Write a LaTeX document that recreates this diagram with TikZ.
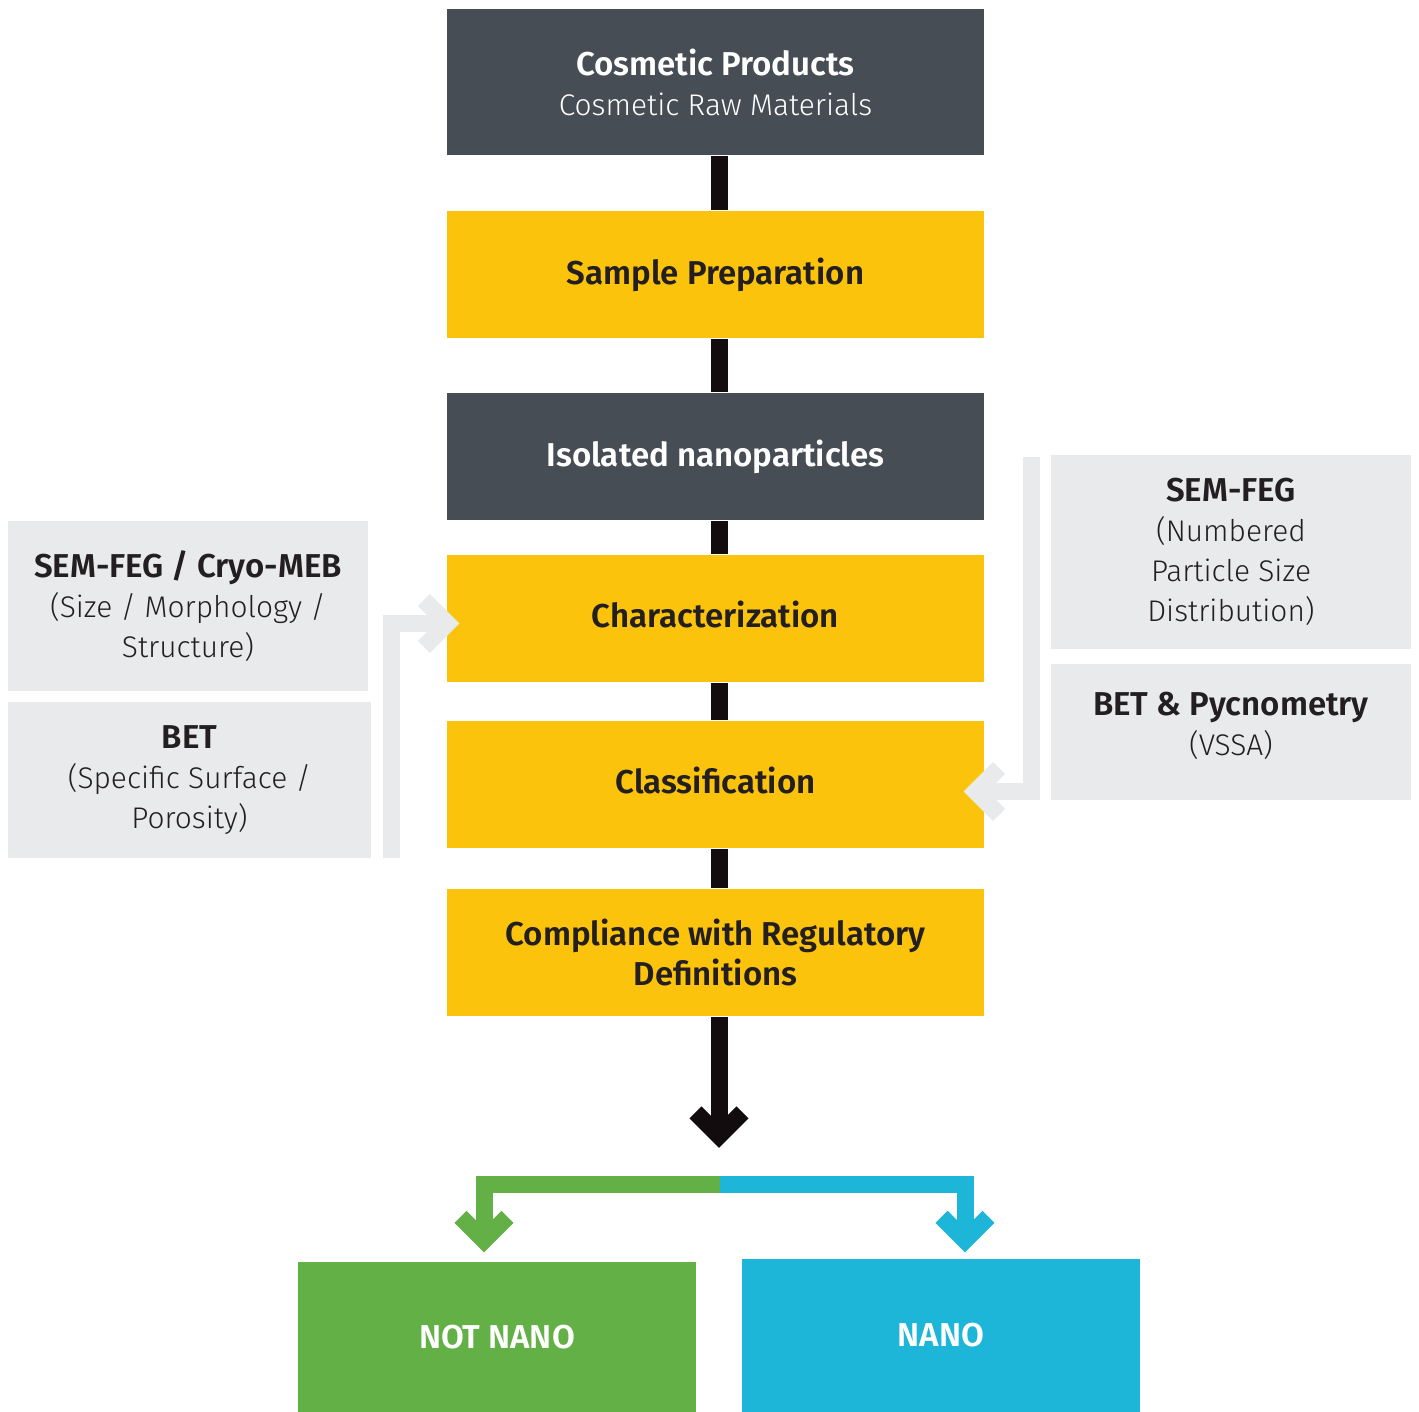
\documentclass[tikz,border=0pt]{standalone}
\usepackage{fontspec}
\setmainfont{Fira Sans}[UprightFont={* Light}, BoldFont={* SemiBold}]
\usepackage{tikz}
\usetikzlibrary{arrows.meta}
\definecolor{slate}{HTML}{464D55}
\definecolor{amber}{HTML}{FCC30C}
\definecolor{mist}{HTML}{E9EAEC}
\definecolor{coal}{HTML}{120C0E}
\definecolor{ink}{HTML}{231F20}
\definecolor{leaf}{HTML}{62B046}
\definecolor{sky}{HTML}{1EB6D8}
\newcommand{\hd}[1]{{\fontsize{9.4}{11.4}\selectfont\bfseries #1}}

\begin{document}
\begin{tikzpicture}[every node/.style={font=\fontsize{8.5}{11.4}\selectfont},
  box/.style={rectangle, inner sep=0pt, minimum width=5.37cm, minimum height=1.27cm, align=center},
  darkbox/.style={box, fill=slate, text=white},
  yellowbox/.style={box, fill=amber, text=ink, font=\fontsize{9.4}{11.4}\selectfont\bfseries},
  infobox/.style={rectangle, inner sep=0pt, fill=mist, text=ink, align=center},
  endbox/.style={rectangle, inner sep=0pt, minimum width=3.98cm, text=white, font=\fontsize{9.4}{11.4}\selectfont\bfseries},
  chevron/.style={-{Straight Barb[length=0.235cm, width=0.47cm, sharp]}},
  spine/.style={draw=coal, line width=0.17cm, transform canvas={xshift=0.035cm}},
  guide/.style={draw=mist, line width=0.17cm, line join=miter, chevron}]
  \useasboundingbox (0,0) rectangle (14.19,-14.12);

  % main column
  \node[darkbox, minimum height=1.46cm] (cosm) at (7.1550,-0.8200) {\hd{Cosmetic Products}\\Cosmetic Raw Materials};
  \node[yellowbox] (prep) at (7.1550,-2.7450) {Sample Preparation};
  \node[darkbox, font=\fontsize{9.4}{11.4}\selectfont\bfseries, text depth=0.06cm] (iso) at (7.1550,-4.5650) {Isolated nanoparticles};
  \node[yellowbox, text depth=0.08cm] (char) at (7.1550,-6.1850) {Characterization};
  \node[yellowbox, text depth=0.08cm] (class) at (7.1550,-7.8450) {Classification};
  \node[yellowbox] (comp) at (7.1550,-9.5250) {Compliance with Regulatory\\Definitions};

  % side methods
  \node[infobox, minimum width=3.60cm, minimum height=1.70cm] (semL) at (1.8800,-6.0600) {\hd{SEM-FEG / Cryo-MEB}\\(Size / Morphology /\\Structure)};
  \node[infobox, minimum width=3.63cm, minimum height=1.56cm] (betL) at (1.8950,-7.8000) {\hd{BET}\\(Specific Surface /\\Porosity)};
  \node[infobox, minimum width=3.60cm, minimum height=1.94cm] (semR) at (12.3100,-5.5200) {\hd{SEM-FEG}\\(Numbered\\Particle Size\\Distribution)};
  \node[infobox, minimum width=3.60cm, minimum height=1.36cm, text depth=0.17cm] (betR) at (12.3100,-7.3200) {\hd{BET \& Pycnometry}\\(VSSA)};

  % outcome
  \node[endbox, fill=leaf, minimum height=1.50cm, text depth=-0.05cm] (notnano) at (4.9700,-13.3700) {NOT NANO};
  \node[endbox, fill=sky, minimum height=1.53cm] (nano) at (9.4100,-13.3550) {NANO};

  \coordinate (lftfoot) at (3.9150,-8.5800);
  \coordinate (rgtfoot) at (10.3150,-4.5700);
  \coordinate (drop) at (7.1550,-11.4800);
  \coordinate (split) at (7.1950,-11.8450);

  \draw[spine] (cosm) -- (prep);
  \draw[spine] (prep) -- (iso);
  \draw[spine] (iso) -- (char);
  \draw[spine] (char) -- (class);
  \draw[spine] (class) -- (comp);
  \draw[spine, chevron] (comp) -- (drop);

  \draw[guide] (lftfoot) |- ([shift={(0.13cm,-0.05cm)}]char.west);
  \draw[guide] (rgtfoot) |- ([shift={(-0.21cm,-0.07cm)}]class.east);

  \draw[leaf, line width=0.17cm, line join=miter, chevron] (split) -| ([shift={(-0.13cm,0.09cm)}]notnano.north);
  \draw[sky, line width=0.17cm, line join=miter, chevron] (split) -| ([shift={(0.24cm,0.06cm)}]nano.north);

\end{tikzpicture}
\end{document}
